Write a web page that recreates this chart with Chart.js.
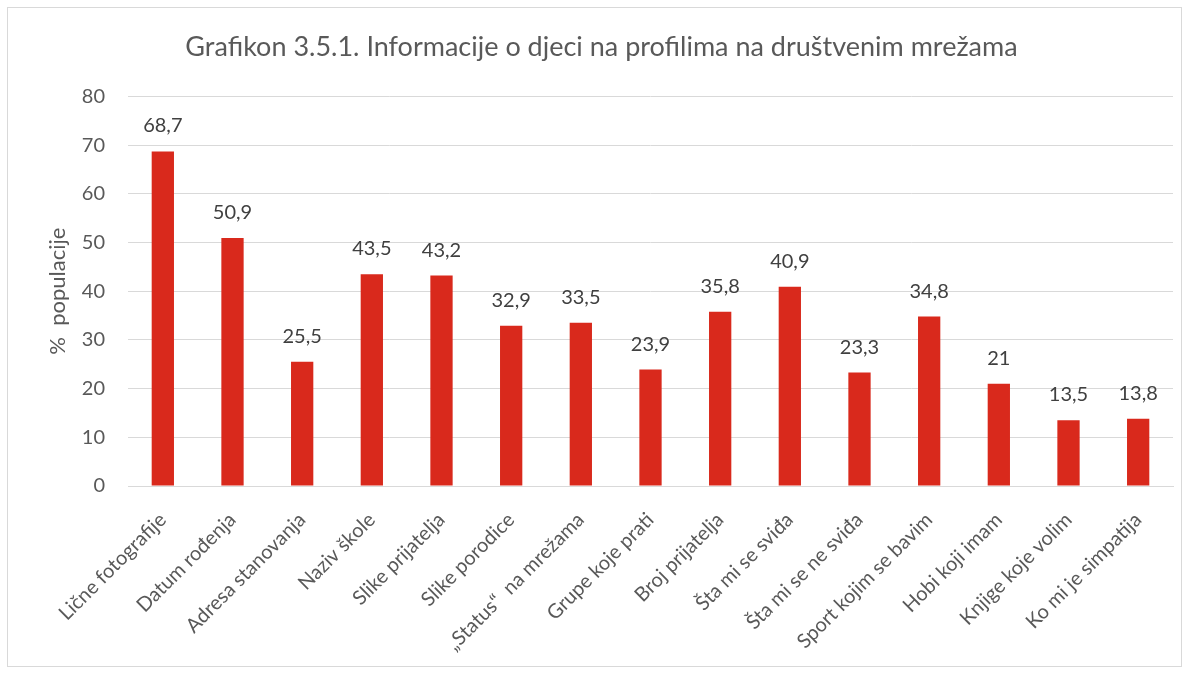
<!DOCTYPE html>
<html>
<head>
<meta charset="utf-8">
<script src="https://cdn.jsdelivr.net/npm/chart.js@4/dist/chart.umd.min.js"></script>
<style>
  html, body { margin: 0; padding: 0; background: #fff; }
  #wrap { position: relative; width: 1190px; height: 674px; }
  #frame { position: absolute; left: 7px; top: 7px; width: 1175px; height: 660px; border: 1px solid #d9d9d9; box-sizing: border-box; pointer-events: none; }
  canvas { position: absolute; left: 0; top: 0; }
</style>
</head>
<body>
<div id="wrap">
  <canvas id="chart" width="1190" height="674"></canvas>
  <div id="frame"></div>
</div>
<script>
const categories = [
  'Lične fotografije', 'Datum rođenja', 'Adresa stanovanja', 'Naziv škole',
  'Slike prijatelja', 'Slike porodice', '„Status“  na mrežama', 'Grupe koje prati',
  'Broj prijatelja', 'Šta mi se sviđa', 'Šta mi se ne sviđa', 'Sport kojim se bavim',
  'Hobi koji imam', 'Knjige koje volim', 'Ko mi je simpatija'
];
const percentages = [68.7, 50.9, 25.5, 43.5, 43.2, 32.9, 33.5, 23.9, 35.8, 40.9, 23.3, 34.8, 21, 13.5, 13.8];
const yTicks = [0, 10, 20, 30, 40, 50, 60, 70, 80];

const FONT = 'Lato, "Open Sans", sans-serif';

// value labels above each bar, decimal comma like the original
const barLabels = {
  id: 'barLabels',
  afterDatasetsDraw(chart) {
    const ctx = chart.ctx;
    const meta = chart.getDatasetMeta(0);
    ctx.save();
    ctx.font = '20px ' + FONT;
    ctx.fillStyle = '#404040';
    ctx.textAlign = 'center';
    ctx.textBaseline = 'alphabetic';
    meta.data.forEach((bar, i) => {
      const text = String(percentages[i]).replace('.', ',');
      ctx.fillText(text, bar.x, bar.y - 19);
    });
    ctx.restore();
  }
};

new Chart(document.getElementById('chart'), {
  type: 'bar',
  data: {
    labels: categories,
    datasets: [{
      data: percentages,
      backgroundColor: '#d9291c',
      borderWidth: 0,
      barPercentage: 0.64,
      categoryPercentage: 0.5
    }]
  },
  options: {
    responsive: false,
    animation: false,
    devicePixelRatio: 1,
    layout: { padding: { left: 30, right: 17, top: 0, bottom: 0 } },
    plugins: {
      legend: { display: false },
      tooltip: { enabled: false },
      title: {
        display: true,
        text: 'Grafikon 3.5.1. Informacije o djeci na profilima na društvenim mrežama',
        color: '#595959',
        font: { family: FONT, size: 27, weight: 'normal' },
        padding: { top: 31, bottom: 33 }
      }
    },
    scales: {
      x: {
        grid: { display: false },
        border: { color: '#d9d9d9', width: 1 },
        ticks: {
          color: '#595959',
          font: { family: FONT, size: 20 },
          maxRotation: 45,
          minRotation: 45,
          autoSkip: false,
          padding: 14
        },
        afterFit(scale) { scale.height = 188; }
      },
      y: {
        min: 0,
        max: 80,
        afterBuildTicks(scale) { scale.ticks = yTicks.map(v => ({ value: v })); },
        grid: { color: '#d9d9d9', lineWidth: 1, drawTicks: false },
        border: { display: false },
        ticks: {
          color: '#595959',
          font: { family: FONT, size: 20 },
          padding: 23
        },
        title: {
          display: true,
          text: '%  populacije',
          color: '#595959',
          font: { family: FONT, size: 22 },
          padding: { top: 15, bottom: 0 }
        },
        afterFit(scale) { scale.width = 98; }
      }
    }
  },
  plugins: [barLabels]
});
</script>
</body>
</html>
